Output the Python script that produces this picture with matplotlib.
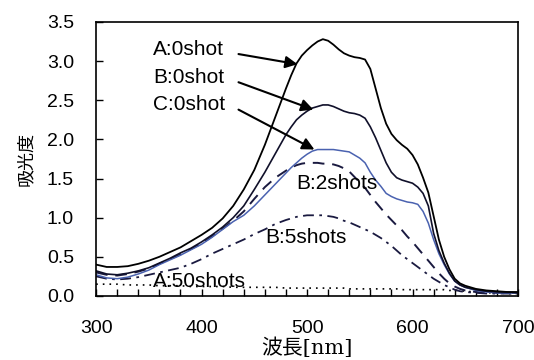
import numpy as np
import matplotlib
matplotlib.use("Agg")
import matplotlib.pyplot as plt
from matplotlib.ticker import MultipleLocator, FormatStrFormatter

plt.rcParams['font.family'] = ['Liberation Sans', 'Noto Sans CJK JP']

# wavelength grid (nm)
wl = [300, 310, 320, 330, 340, 350, 360, 370, 380, 390, 400, 410, 420, 430, 440, 450, 460, 470,
      480, 485, 490, 495, 500, 505, 510, 515, 520, 525, 530, 535, 540, 545, 550, 555, 560, 565,
      570, 575, 580, 585, 590, 595, 600, 605, 610, 615, 620, 625, 630, 635, 640, 645, 650,
      660, 670, 680, 690, 700]

a_0shot = [0.40, 0.37, 0.37, 0.38, 0.41, 0.45, 0.50, 0.56, 0.62, 0.70, 0.78, 0.87, 0.99, 1.15, 1.36, 1.61, 1.93, 2.29,
           2.65, 2.82, 2.97, 3.07, 3.14, 3.20, 3.25, 3.28, 3.26, 3.21, 3.15, 3.10, 3.07, 3.05, 3.04, 3.02, 2.90, 2.65,
           2.40, 2.20, 2.07, 1.99, 1.93, 1.88, 1.80, 1.68, 1.51, 1.32, 1.02, 0.72, 0.50, 0.34, 0.22, 0.16, 0.13,
           0.09, 0.07, 0.06, 0.05, 0.05]

b_0shot = [0.32, 0.28, 0.27, 0.29, 0.32, 0.36, 0.42, 0.48, 0.55, 0.61, 0.69, 0.78, 0.88, 1.00, 1.15, 1.36, 1.58, 1.82,
           2.06, 2.16, 2.25, 2.31, 2.36, 2.40, 2.42, 2.44, 2.44, 2.42, 2.39, 2.36, 2.34, 2.33, 2.31, 2.27, 2.16, 2.02,
           1.86, 1.70, 1.58, 1.51, 1.48, 1.46, 1.44, 1.39, 1.31, 1.15, 0.80, 0.58, 0.42, 0.29, 0.19, 0.14, 0.11,
           0.08, 0.06, 0.05, 0.05, 0.04]

c_0shot = [0.27, 0.23, 0.22, 0.24, 0.28, 0.33, 0.40, 0.46, 0.52, 0.59, 0.66, 0.75, 0.85, 0.95, 1.03, 1.15, 1.29, 1.43,
           1.57, 1.64, 1.70, 1.76, 1.81, 1.85, 1.87, 1.87, 1.87, 1.87, 1.86, 1.85, 1.84, 1.80, 1.76, 1.70, 1.58, 1.48,
           1.40, 1.31, 1.27, 1.24, 1.22, 1.20, 1.19, 1.17, 1.08, 0.93, 0.72, 0.54, 0.40, 0.28, 0.19, 0.14, 0.11,
           0.07, 0.05, 0.04, 0.04, 0.04]

b_2shots = [0.30, 0.27, 0.26, 0.28, 0.31, 0.35, 0.41, 0.47, 0.53, 0.60, 0.67, 0.76, 0.86, 0.96, 1.08, 1.24, 1.39, 1.51,
            1.60, 1.64, 1.67, 1.69, 1.70, 1.70, 1.70, 1.69, 1.69, 1.68, 1.66, 1.63, 1.59, 1.52, 1.45, 1.38, 1.29, 1.20,
            1.12, 1.04, 0.97, 0.90, 0.84, 0.76, 0.69, 0.61, 0.53, 0.45, 0.37, 0.29, 0.22, 0.16, 0.12, 0.09, 0.07,
            0.05, 0.04, 0.04, 0.04, 0.04]

b_5shots = [0.25, 0.22, 0.21, 0.22, 0.24, 0.27, 0.30, 0.33, 0.36, 0.41, 0.47, 0.54, 0.60, 0.66, 0.72, 0.79, 0.85, 0.92,
            0.97, 0.99, 1.01, 1.02, 1.03, 1.03, 1.03, 1.03, 1.02, 1.01, 0.99, 0.96, 0.94, 0.91, 0.88, 0.85, 0.82, 0.78,
            0.74, 0.69, 0.64, 0.58, 0.52, 0.47, 0.42, 0.37, 0.32, 0.27, 0.22, 0.18, 0.14, 0.11, 0.08, 0.06, 0.05,
            0.04, 0.03, 0.03, 0.03, 0.03]

a_50shots = [0.15, 0.15, 0.15, 0.14, 0.14, 0.14, 0.13, 0.13, 0.13, 0.12, 0.12, 0.12, 0.12, 0.11, 0.11, 0.11, 0.11, 0.11,
             0.10, 0.10, 0.10, 0.10, 0.10, 0.10, 0.10, 0.10, 0.10, 0.10, 0.10, 0.10, 0.09, 0.09, 0.09, 0.09, 0.09, 0.09,
             0.09, 0.09, 0.09, 0.09, 0.08, 0.08, 0.08, 0.08, 0.08, 0.08, 0.08, 0.08, 0.08, 0.07, 0.07, 0.07, 0.06,
             0.05, 0.04, 0.04, 0.03, 0.03]

fig = plt.figure(figsize=(5.34, 3.6), dpi=100)
ax = fig.add_axes([0.180, 0.178, 0.790, 0.761])

ax.plot(wl, a_50shots, color='black', lw=1.2, linestyle=(0, (1, 3)))
ax.plot(wl, b_5shots, color='#1a1a40', lw=1.3, linestyle=(0, (6, 3, 1.5, 3)))
ax.plot(wl, b_2shots, color='#1a1a40', lw=1.4, linestyle=(0, (6, 4)))
ax.plot(wl, c_0shot, color='#4a62b0', lw=1.1)
ax.plot(wl, b_0shot, color='#10102a', lw=1.2)
ax.plot(wl, a_0shot, color='black', lw=1.3)

ax.set_xlim(300, 700)
ax.set_ylim(0, 3.5)
ax.xaxis.set_major_locator(MultipleLocator(100))
ax.xaxis.set_minor_locator(MultipleLocator(20))
ax.yaxis.set_major_locator(MultipleLocator(0.5))
ax.yaxis.set_major_formatter(FormatStrFormatter('%.1f'))
ax.tick_params(axis='both', which='both', direction='in', length=5, width=1, labelsize=14)
ax.tick_params(axis='x', which='major', pad=17)
ax.tick_params(axis='y', which='major', pad=16)
for s in ax.spines.values():
    s.set_linewidth(1.2)

ax.set_ylabel('吸光度', family=['Noto Sans CJK JP'], fontsize=13)
ax.yaxis.set_label_coords(-0.145, 0.5)
ax.set_xlabel('波長[nm]', family=['DejaVu Serif', 'Noto Sans CJK JP'], fontsize=15)
ax.xaxis.set_label_coords(0.5, -0.150)

# series labels with arrows
ax.text(354, 3.15, 'A:0shot', fontsize=15, va='center')
ax.text(354, 2.79, 'B:0shot', fontsize=15, va='center')
ax.text(354, 2.45, 'C:0shot', fontsize=15, va='center')
arrow = dict(arrowstyle='-|>', color='black', lw=1.5, mutation_scale=18, shrinkA=0, shrinkB=0)
ax.annotate('', xy=(491, 2.96), xytext=(435, 3.09), arrowprops=arrow)
ax.annotate('', xy=(506, 2.38), xytext=(435, 2.73), arrowprops=arrow)
ax.annotate('', xy=(507, 1.87), xytext=(435, 2.38), arrowprops=arrow)

ax.text(490, 1.44, 'B:2shots', fontsize=15, va='center')
ax.text(460, 0.74, 'B:5shots', fontsize=15, va='center')
ax.text(354, 0.19, 'A:50shots', fontsize=15, va='center')

fig.savefig('out.png', dpi=100)
